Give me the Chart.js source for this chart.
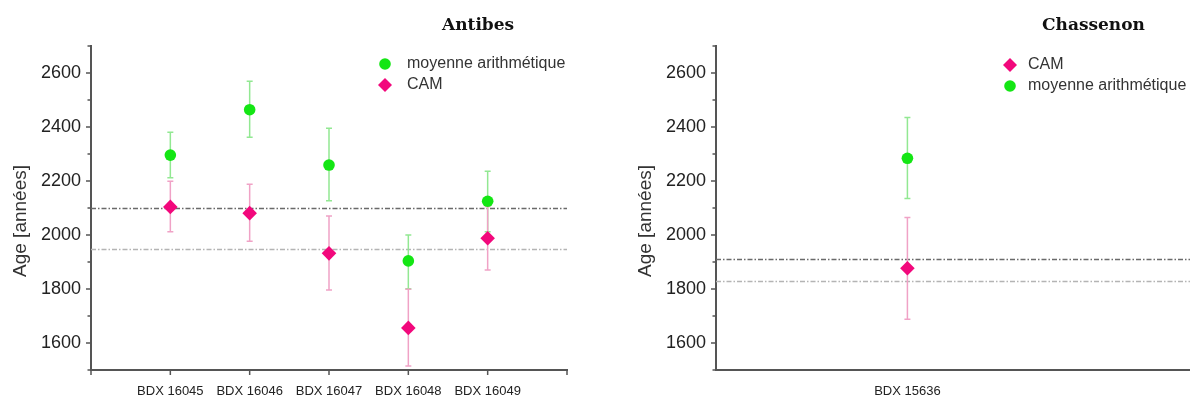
<!DOCTYPE html>
<html><head><meta charset="utf-8">
<script src="https://cdn.jsdelivr.net/npm/chart.js@4.4.1/dist/chart.umd.min.js"></script>
<style>
html,body{margin:0;padding:0;background:#fff;width:1190px;height:400px;overflow:hidden}
.box{position:absolute;top:0;height:400px}
</style></head><body>
<div class="box" style="left:0;width:600px"><canvas id="c1" width="600" height="400"></canvas></div>
<div class="box" style="left:600px;width:598px"><canvas id="c2" width="598" height="400"></canvas></div>
<script>
// ---- data ----
const antibesSamples = ['BDX 16045', 'BDX 16046', 'BDX 16047', 'BDX 16048', 'BDX 16049'];
const antibesMean     = [2296, 2464, 2259, 1904, 2125];
const antibesMeanLow  = [2212, 2362, 2127, 1801, 2012];
const antibesMeanHigh = [2381, 2569, 2395, 2000, 2236];
const antibesCAM      = [2104, 2081, 1932, 1656, 1988];
const antibesCAMLow   = [2012, 1977, 1796, 1515, 1870];
const antibesCAMHigh  = [2199, 2188, 2070, 1799, 2106];
const antibesRefLines = [2100, 1950];

const chassenonSamples  = ['BDX 15636'];
const chassenonCAM      = [1877];
const chassenonCAMLow   = [1688];
const chassenonCAMHigh  = [2065];
const chassenonMean     = [2284];
const chassenonMeanLow  = [2135];
const chassenonMeanHigh = [2435];
const chassenonRefLines = [1910, 1830];

const yTickLabels = [1600, 1800, 2000, 2200, 2400, 2600];
const yLabel = 'Age [années]';
const meanLabel = 'moyenne arithmétique';
const camLabel = 'CAM';

// ---- styles ----
const GREEN = '#14e614', GREEN_ERR = '#92e892';
const PINK = '#f2087c', PINK_ERR = '#f0a2c6';
const AXIS = '#555';
const REF_COLORS = ['#6a6a6a', '#b4b4b4'];

function pts(vals) { return vals.map((v, i) => ({x: i + 1, y: v})); }

function meanDs(vals, lo, hi) {
  return {label: meanLabel, data: pts(vals), errLow: lo, errHigh: hi,
    pointStyle: 'circle', pointRadius: 5.8, backgroundColor: GREEN, borderColor: GREEN,
    borderWidth: 0, errColor: GREEN_ERR, showLine: false};
}
function camDs(vals, lo, hi) {
  return {label: camLabel, data: pts(vals), errLow: lo, errHigh: hi,
    pointStyle: 'rectRot', pointRadius: 7.3, backgroundColor: PINK, borderColor: PINK,
    borderWidth: 0, errColor: PINK_ERR, showLine: false};
}

const decorPlugin = {
  id: 'decor',
  beforeDatasetsDraw(chart) {
    const o = chart.options.plugins.decor;
    const {ctx, chartArea: ca} = chart;
    const xs = chart.scales.x, ys = chart.scales.y;
    ctx.save();
    // reference lines
    o.refLines.forEach((v, k) => {
      const y = Math.round(ys.getPixelForValue(v)) + 0.5;
      ctx.strokeStyle = REF_COLORS[k];
      ctx.lineWidth = 1.3;
      ctx.setLineDash([5, 2, 1.5, 2]);
      ctx.beginPath(); ctx.moveTo(ca.left, y); ctx.lineTo(ca.right, y); ctx.stroke();
    });
    ctx.setLineDash([]);
    // error bars
    chart.data.datasets.forEach(ds => {
      ctx.strokeStyle = ds.errColor;
      ctx.lineWidth = 1.5;
      ds.data.forEach((p, j) => {
        const x = xs.getPixelForValue(p.x);
        const y1 = ys.getPixelForValue(ds.errLow[j]);
        const y2 = ys.getPixelForValue(ds.errHigh[j]);
        ctx.beginPath();
        ctx.moveTo(x, y1); ctx.lineTo(x, y2);
        ctx.moveTo(x - 3, y1); ctx.lineTo(x + 3, y1);
        ctx.moveTo(x - 3, y2); ctx.lineTo(x + 3, y2);
        ctx.stroke();
      });
    });
    ctx.restore();
  },
  afterDraw(chart) {
    const o = chart.options.plugins.decor;
    const {ctx, chartArea: ca} = chart;
    const xs = chart.scales.x, ys = chart.scales.y;
    ctx.save();
    // axis tick marks
    ctx.strokeStyle = AXIS; ctx.lineWidth = 1.5;
    ys.ticks.forEach(t => {
      const y = ys.getPixelForValue(t.value);
      const len = yTickLabels.includes(t.value) ? 5 : 3.5;
      ctx.beginPath(); ctx.moveTo(ca.left - len, y); ctx.lineTo(ca.left, y); ctx.stroke();
    });
    if (o.xTicks) {
      xs.ticks.forEach(t => {
        const x = xs.getPixelForValue(t.value);
        ctx.beginPath(); ctx.moveTo(x, ca.bottom); ctx.lineTo(x, ca.bottom + 5); ctx.stroke();
      });
    }
    // title
    ctx.fillStyle = '#111';
    ctx.font = 'bold 17px "DejaVu Serif"';
    ctx.textBaseline = 'alphabetic'; ctx.textAlign = 'left';
    ctx.fillText(o.title, o.titleX, 30);
    // y axis title
    ctx.save();
    ctx.translate(o.yTitleX, 221);
    ctx.rotate(-Math.PI / 2);
    ctx.font = '19px "Liberation Sans"';
    ctx.fillStyle = '#333';
    ctx.textAlign = 'center'; ctx.textBaseline = 'middle';
    ctx.fillText(yLabel, 0, 0);
    ctx.restore();
    // legend
    ctx.font = '16px "Liberation Sans"';
    ctx.textBaseline = 'middle'; ctx.textAlign = 'left';
    chart.data.datasets.forEach((ds, k) => {
      const y = o.legendY + k * 21;
      const x = o.legendX;
      ctx.fillStyle = ds.backgroundColor;
      ctx.beginPath();
      if (ds.pointStyle === 'circle') {
        ctx.arc(x, y, 5.8, 0, Math.PI * 2);
      } else {
        ctx.moveTo(x, y - 7); ctx.lineTo(x + 7, y); ctx.lineTo(x, y + 7); ctx.lineTo(x - 7, y); ctx.closePath();
      }
      ctx.fill();
      ctx.fillStyle = '#333';
      ctx.fillText(ds.label, o.legendTextX, y);
    });
    ctx.restore();
  }
};

function makeChart(id, samples, datasets, xMax, padLeft, padRight, decor) {
  return new Chart(document.getElementById(id), {
    type: 'scatter',
    data: {datasets},
    plugins: [decorPlugin],
    options: {
      responsive: false, animation: false, devicePixelRatio: 1,
      layout: {padding: {left: padLeft, right: padRight, top: 46, bottom: 0}},
      plugins: {legend: {display: false}, tooltip: {enabled: false}, title: {display: false}, decor},
      scales: {
        x: {
          type: 'linear', min: 0, max: xMax,
          grid: {display: false, drawTicks: false},
          border: {display: true, color: AXIS, width: 2},
          ticks: {stepSize: 1, autoSkip: false, maxRotation: 0, padding: 14,
            color: '#222', font: {family: 'Liberation Sans', size: 13},
            callback: v => samples[v - 1] || ''},
          afterFit: s => { s.height = 30; s.paddingLeft = 0; s.paddingRight = 0; }
        },
        y: {
          min: 1500, max: 2700,
          grid: {display: false, drawTicks: false},
          border: {display: true, color: AXIS, width: 2},
          ticks: {stepSize: 100, autoSkip: false, padding: 10,
            color: '#222', font: {family: 'Liberation Sans', size: 18},
            callback: v => yTickLabels.includes(v) ? String(v) : ''},
          afterFit: s => { s.width = 91; }
        }
      }
    }
  });
}

makeChart('c1', antibesSamples,
  [meanDs(antibesMean, antibesMeanLow, antibesMeanHigh), camDs(antibesCAM, antibesCAMLow, antibesCAMHigh)],
  6, 0, 33,
  {refLines: antibesRefLines, xTicks: true, title: 'Antibes', titleX: 442, yTitleX: 21,
   legendX: 385, legendTextX: 407, legendY: 64});

makeChart('c2', chassenonSamples,
  [camDs(chassenonCAM, chassenonCAMLow, chassenonCAMHigh), meanDs(chassenonMean, chassenonMeanLow, chassenonMeanHigh)],
  2.48, 25, 0,
  {refLines: chassenonRefLines, xTicks: false, title: 'Chassenon', titleX: 442, yTitleX: 46,
   legendX: 410, legendTextX: 428, legendY: 65});
</script>
</body></html>
